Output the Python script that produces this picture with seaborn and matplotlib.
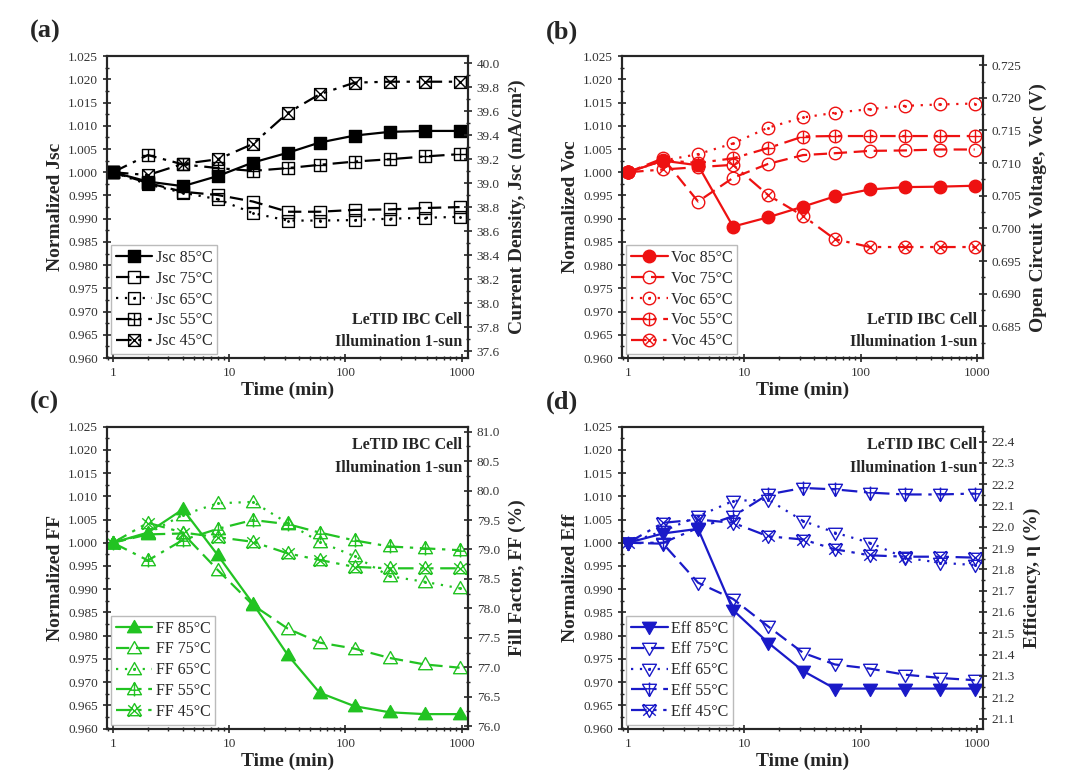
import numpy as np
import matplotlib
matplotlib.use("Agg")
import matplotlib.pyplot as plt
import matplotlib.ticker as mticker
from matplotlib.path import Path
import seaborn as sns

# time points (min) and series
time_min = [1, 2, 4, 8, 16, 32, 60, 120, 240, 480, 960]
temps = ["85", "75", "65", "55", "45"]

jsc_85 = [1.000, 0.9980, 0.9970, 0.9992, 1.0021, 1.0042, 1.0064, 1.0079, 1.0087, 1.0089, 1.0089]
jsc_75 = [1.000, 0.9977, 0.9958, 0.9951, 0.9937, 0.9915, 0.9915, 0.9919, 0.9920, 0.9923, 0.9925]
jsc_65 = [1.000, 0.9974, 0.9956, 0.9942, 0.9912, 0.9896, 0.9896, 0.9897, 0.9900, 0.9902, 0.9904]
jsc_55 = [1.000, 1.0037, 1.0017, 1.0009, 1.0003, 1.0009, 1.0016, 1.0023, 1.0028, 1.0034, 1.0039]
jsc_45 = [1.000, 0.9994, 1.0018, 1.0028, 1.0061, 1.0128, 1.0168, 1.0193, 1.0195, 1.0195, 1.0195]

voc_85 = [1.000, 1.0025, 1.0015, 0.9883, 0.9903, 0.9926, 0.9948, 0.9963, 0.9968, 0.9969, 0.9971]
voc_75 = [1.000, 1.0030, 0.9937, 0.9988, 1.0018, 1.0037, 1.0041, 1.0046, 1.0047, 1.0049, 1.0049]
voc_65 = [1.000, 1.0025, 1.0039, 1.0062, 1.0096, 1.0118, 1.0128, 1.0136, 1.0143, 1.0146, 1.0148]
voc_55 = [1.000, 1.0026, 1.0020, 1.0030, 1.0052, 1.0077, 1.0078, 1.0078, 1.0078, 1.0078, 1.0078]
voc_45 = [1.000, 1.0006, 1.0011, 1.0016, 0.9951, 0.9906, 0.9856, 0.9839, 0.9839, 0.9839, 0.9839]

ff_85 = [1.000, 1.0022, 1.0072, 0.9973, 0.9869, 0.9758, 0.9677, 0.9648, 0.9635, 0.9631, 0.9631]
ff_75 = [1.000, 1.0018, 1.0020, 0.9941, 0.9866, 0.9815, 0.9785, 0.9772, 0.9752, 0.9738, 0.9731]
ff_65 = [1.000, 1.0020, 1.0060, 1.0085, 1.0088, 1.0042, 1.0002, 0.9971, 0.9928, 0.9916, 0.9902]
ff_55 = [1.000, 0.9962, 1.0006, 1.0030, 1.0049, 1.0040, 1.0022, 1.0005, 0.9992, 0.9988, 0.9984]
ff_45 = [1.000, 1.0043, 1.0022, 1.0012, 1.0002, 0.9977, 0.9963, 0.9948, 0.9945, 0.9945, 0.9945]

eff_85 = [1.000, 1.0020, 1.0030, 0.9855, 0.9785, 0.9724, 0.9686, 0.9686, 0.9686, 0.9686, 0.9686]
eff_75 = [1.000, 0.9998, 0.9914, 0.9879, 0.9820, 0.9763, 0.9738, 0.9729, 0.9716, 0.9709, 0.9704]
eff_65 = [1.000, 1.0025, 1.0057, 1.0090, 1.0093, 1.0047, 1.0022, 1.0000, 0.9968, 0.9957, 0.9952]
eff_55 = [1.000, 1.0000, 1.0032, 1.0057, 1.0104, 1.0118, 1.0115, 1.0108, 1.0104, 1.0104, 1.0106]
eff_45 = [1.000, 1.0043, 1.0050, 1.0043, 1.0014, 1.0007, 0.9986, 0.9973, 0.9970, 0.9970, 0.9968]

# right-hand (absolute) axis ranges and ticks
jsc_right = (37.545, 40.061, 37.6, 40.0, 0.2, "%.1f")
voc_right = (0.68016, 0.72638, 0.685, 0.725, 0.005, "%.3f")
ff_right = (75.96, 81.085, 76.0, 81.0, 0.5, "%.1f")
eff_right = (21.053, 22.47, 21.1, 22.4, 0.1, "%.1f")

sns.set_style("ticks")
plt.rcParams["font.family"] = ["Liberation Serif", "DejaVu Serif"]


# ---- marker shapes -------------------------------------------------------
def seg(*pts):
    return Path(pts, [Path.MOVETO] + [Path.LINETO] * (len(pts) - 1))


def combo(*paths):
    return Path.make_compound_path(*paths)


square = Path([(-1, -1), (1, -1), (1, 1), (-1, 1), (-1, -1)],
              [1, 2, 2, 2, 79])
circle = Path.unit_circle()
tri_up = Path([(0, 1), (-1, -0.75), (1, -0.75), (0, 1)], [1, 2, 2, 79])
tri_dn = Path([(0, -1), (-1, 0.75), (1, 0.75), (0, -1)], [1, 2, 2, 79])
dot = Path(circle.vertices * 0.12, circle.codes)

plus_sq = combo(seg((-1, 0), (1, 0)), seg((0, -1), (0, 1)))
x_sq = combo(seg((-1, -1), (1, 1)), seg((-1, 1), (1, -1)))
x_ci = combo(seg((-0.71, -0.71), (0.71, 0.71)), seg((-0.71, 0.71), (0.71, -0.71)))
plus_up = combo(seg((-0.6, -0.1), (0.6, -0.1)), seg((0, 1), (0, -1)))
x_up = combo(seg((-0.9, -0.9), (0.9, 0.75)), seg((-0.9, 0.75), (0.9, -0.9)))
plus_dn = combo(seg((-0.6, 0.1), (0.6, 0.1)), seg((0, -1), (0, 1)))
x_dn = combo(seg((-0.9, 0.9), (0.9, -0.75)), seg((-0.9, -0.75), (0.9, 0.9)))

markers = {
    "sq": [square, square, combo(square, dot), combo(square, plus_sq), combo(square, x_sq)],
    "ci": [circle, circle, combo(circle, dot), combo(circle, plus_sq), combo(circle, x_ci)],
    "up": [tri_up, tri_up, combo(tri_up, dot), combo(tri_up, plus_up), combo(tri_up, x_up)],
    "dn": [tri_dn, tri_dn, combo(tri_dn, dot), combo(tri_dn, plus_dn), combo(tri_dn, x_dn)],
}
line_styles = ["-", (0, (6, 3)), (0, (1, 3)), (0, (7, 3, 1.5, 3)),
               (0, (7, 3, 1.5, 3, 1.5, 3))]

panels = [
    dict(tag="(a)", name="Jsc", data=[jsc_85, jsc_75, jsc_65, jsc_55, jsc_45],
         color="black", mk="sq", ms=8.5, right=jsc_right,
         rlabel="Current Density, Jsc (mA/cm²)", pos=[0.099, 0.541, 0.334, 0.387],
         note_top=False),
    dict(tag="(b)", name="Voc", data=[voc_85, voc_75, voc_65, voc_55, voc_45],
         color="#ee1111", mk="ci", ms=9, right=voc_right,
         rlabel="Open Circuit Voltage, Voc (V)", pos=[0.576, 0.541, 0.334, 0.387],
         note_top=False),
    dict(tag="(c)", name="FF", data=[ff_85, ff_75, ff_65, ff_55, ff_45],
         color="#22c322", mk="up", ms=10, right=ff_right,
         rlabel="Fill Factor, FF (%)", pos=[0.099, 0.066, 0.334, 0.387],
         note_top=True),
    dict(tag="(d)", name="Eff", data=[eff_85, eff_75, eff_65, eff_55, eff_45],
         color="#1a1ac8", mk="dn", ms=10, right=eff_right,
         rlabel="Efficiency, η (%)", pos=[0.576, 0.066, 0.334, 0.387],
         note_top=True),
]

fig = plt.figure(figsize=(10.8, 7.8), dpi=100)
tick_col = "#333333"

for p in panels:
    ax = fig.add_axes(p["pos"])
    c = p["color"]
    for i, (vals, t) in enumerate(zip(p["data"], temps)):
        sns.lineplot(x=time_min, y=vals, ax=ax, color=c, linestyle=line_styles[i],
                     linewidth=1.6, marker=markers[p["mk"]][i], markersize=p["ms"],
                     markerfacecolor=c if i == 0 else "none", markeredgecolor=c,
                     markeredgewidth=1.0, label=f"{p['name']} {t}°C", zorder=3 + i)

    ax.set_xscale("log")
    ax.set_xlim(0.888, 1126)
    ax.set_ylim(0.960, 1.025)
    ax.set_xticks([1, 10, 100, 1000])
    ax.xaxis.set_major_formatter(mticker.FuncFormatter(lambda v, _: f"{v:g}"))
    ax.xaxis.set_minor_locator(mticker.LogLocator(base=10, subs=np.arange(2, 10), numticks=20))
    ax.xaxis.set_minor_formatter(mticker.NullFormatter())
    ax.set_yticks(np.arange(0.960, 1.0251, 0.005))
    ax.yaxis.set_major_formatter(mticker.FormatStrFormatter("%.3f"))
    ax.yaxis.set_minor_locator(mticker.AutoMinorLocator(2))
    ax.tick_params(which="major", direction="inout", length=6, width=1.2,
                   labelsize=9.5, labelcolor=tick_col)
    ax.tick_params(which="minor", direction="inout", length=3.5, width=1.0)
    ax.tick_params(axis="x", top=False, which="both")
    ax.set_xlabel("Time (min)", fontsize=14, fontweight="bold", labelpad=2)
    ax.set_ylabel(f"Normalized {p['name']}", fontsize=14, fontweight="bold", labelpad=3)
    for s in ax.spines.values():
        s.set_linewidth(1.5)
        s.set_color("black")

    leg = ax.legend(loc="lower left", fontsize=11.5, frameon=True, fancybox=False,
                    edgecolor="#aaaaaa", handlelength=2.3, handletextpad=0.2,
                    labelspacing=0.3, borderpad=0.3, borderaxespad=0.25)
    leg.get_frame().set_linewidth(1.0)

    note = "LeTID IBC Cell\nIllumination 1-sun"
    if p["note_top"]:
        ax.text(0.985, 0.965, note, transform=ax.transAxes, ha="right", va="top",
                fontsize=11.5, fontweight="bold", linespacing=1.55)
    else:
        ax.text(0.985, 0.025, note, transform=ax.transAxes, ha="right", va="bottom",
                fontsize=11.5, fontweight="bold", linespacing=1.55)

    lo, hi, t0, t1, step, fmt = p["right"]
    ax2 = ax.twinx()
    ax2.set_ylim(lo, hi)
    ax2.set_yticks(np.arange(t0, t1 + step * 0.01, step))
    ax2.yaxis.set_major_formatter(mticker.FormatStrFormatter(fmt))
    ax2.yaxis.set_minor_locator(mticker.AutoMinorLocator(2))
    ax2.tick_params(which="major", direction="inout", length=6, width=1.2,
                    labelsize=9.5, labelcolor=tick_col)
    ax2.tick_params(which="minor", direction="inout", length=3.5, width=1.0)
    ax2.set_ylabel(p["rlabel"], fontsize=14, fontweight="bold", rotation=90, labelpad=6)
    for s in ax2.spines.values():
        s.set_linewidth(1.5)

    x0, y0, w, h = p["pos"]
    fig.text(x0 - 0.071, y0 + h + 0.046, p["tag"], fontsize=19, fontweight="bold",
             ha="left", va="top")

fig.savefig("out.png", dpi=100)
